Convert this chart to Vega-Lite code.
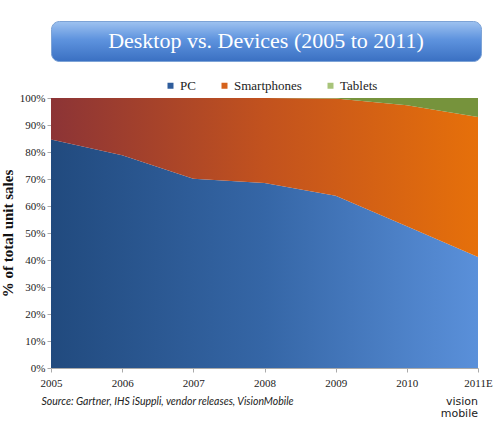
{
  "$schema": "https://vega.github.io/schema/vega-lite/v6.json",
  "background": "white",
  "padding": {"left": 0, "top": 20, "right": 5, "bottom": 5},
  "config": {
    "view": {"stroke": null},
    "font": "Liberation Serif",
    "axis": {"labelFont": "Liberation Serif"},
    "legend": {"labelFont": "Liberation Serif"}
  },
  "spacing": 30,
  "vconcat": [
    {
      "width": 430,
      "height": 40,
      "view": {
        "fill": {
          "gradient": "linear", "x1": 0, "y1": 0, "x2": 0, "y2": 1,
          "stops": [
            {"offset": 0, "color": "#9ec2f0"},
            {"offset": 0.45, "color": "#5e93de"},
            {"offset": 1, "color": "#3a70c2"}
          ]
        },
        "cornerRadius": 8,
        "stroke": "#7da3d6"
      },
      "data": {"values": [{"label": "Desktop vs. Devices (2005 to 2011)"}]},
      "mark": {"type": "text", "fontSize": 22, "color": "white", "font": "Liberation Serif"},
      "encoding": {"text": {"field": "label"}}
    },
    {
      "width": 427,
      "height": 270,
      "title": {
        "text": ["vision", "mobile"],
        "orient": "bottom",
        "anchor": "end",
        "frame": "group",
        "font": "DejaVu Sans",
        "fontSize": 11,
        "fontWeight": "normal",
        "color": "#222",
        "lineHeight": 12,
        "offset": -11
      },
      "data": {
        "values": [
          {"year": "2005", "series": "PC", "value": 84.6},
          {"year": "2006", "series": "PC", "value": 78.8},
          {"year": "2007", "series": "PC", "value": 70.1},
          {"year": "2008", "series": "PC", "value": 68.5},
          {"year": "2009", "series": "PC", "value": 63.8},
          {"year": "2010", "series": "PC", "value": 52.5},
          {"year": "2011E", "series": "PC", "value": 41.1},
          {"year": "2005", "series": "Smartphones", "value": 15.4},
          {"year": "2006", "series": "Smartphones", "value": 21.2},
          {"year": "2007", "series": "Smartphones", "value": 29.9},
          {"year": "2008", "series": "Smartphones", "value": 31.5},
          {"year": "2009", "series": "Smartphones", "value": 36.0},
          {"year": "2010", "series": "Smartphones", "value": 44.8},
          {"year": "2011E", "series": "Smartphones", "value": 51.9},
          {"year": "2005", "series": "Tablets", "value": 0},
          {"year": "2006", "series": "Tablets", "value": 0},
          {"year": "2007", "series": "Tablets", "value": 0},
          {"year": "2008", "series": "Tablets", "value": 0},
          {"year": "2009", "series": "Tablets", "value": 0.2},
          {"year": "2010", "series": "Tablets", "value": 2.7},
          {"year": "2011E", "series": "Tablets", "value": 7.0}
        ]
      },
      "transform": [
        {
          "stack": "value",
          "groupby": ["year"],
          "sort": [{"field": "series", "order": "ascending"}],
          "as": ["v0", "v1"]
        }
      ],
      "encoding": {
        "x": {
          "field": "year",
          "type": "ordinal",
          "scale": {"padding": 0},
          "axis": {
            "labelAngle": 0,
            "labelFont": "Liberation Serif",
            "labelFontSize": 11,
            "labelColor": "#222",
            "labelPadding": 5,
            "domainColor": "#aaa",
            "tickColor": "#aaa",
            "tickSize": 4,
            "title": "Source: Gartner, IHS iSuppli, vendor releases, VisionMobile",
            "titleFont": "Lato",
            "titleFontStyle": "italic",
            "titleFontWeight": "normal",
            "titleFontSize": 10.5,
            "titleColor": "#222",
            "titleAnchor": "start",
            "titleAlign": "left",
            "titleX": -10,
            "titlePadding": 8
          }
        },
        "y": {
          "field": "v1",
          "type": "quantitative",
          "scale": {"domain": [0, 100]},
          "axis": {
            "values": [0, 10, 20, 30, 40, 50, 60, 70, 80, 90, 100],
            "labelExpr": "datum.value + '%'",
            "labelOverlap": false,
            "grid": false,
            "labelFont": "Liberation Serif",
            "labelFontSize": 11,
            "labelColor": "#222",
            "domainColor": "#aaa",
            "tickColor": "#aaa",
            "tickSize": 4,
            "labelPadding": 2,
            "title": "% of total unit sales",
            "titleFont": "Liberation Serif",
            "titleFontSize": 15,
            "titleFontWeight": "bold",
            "titleColor": "#111",
            "titlePadding": 4
          }
        },
        "y2": {"field": "v0"}
      },
      "layer": [
        {
          "transform": [{"filter": "datum.series === 'PC'"}],
          "mark": {
            "type": "area",
            "fill": {
              "gradient": "linear",
              "stops": [
                {"offset": 0, "color": "#214a7e"},
                {"offset": 0.5, "color": "#3566a6"},
                {"offset": 1, "color": "#5a90da"}
              ]
            }
          }
        },
        {
          "transform": [{"filter": "datum.series === 'Smartphones'"}],
          "mark": {
            "type": "area",
            "fill": {
              "gradient": "linear",
              "stops": [
                {"offset": 0, "color": "#8c3436"},
                {"offset": 0.5, "color": "#c2521e"},
                {"offset": 1, "color": "#e6700a"}
              ]
            }
          }
        },
        {
          "transform": [{"filter": "datum.series === 'Tablets'"}],
          "mark": {"type": "area", "fill": "#76933c"}
        },
        {
          "transform": [{"filter": "false"}],
          "mark": {"type": "area"},
          "encoding": {
            "color": {
              "field": "series",
              "type": "nominal",
              "scale": {
                "domain": ["PC", "Smartphones", "Tablets"],
                "range": ["#2f5d9c", "#d5621c", "#a8c47a"]
              },
              "legend": {
                "title": null,
                "orient": "none",
                "direction": "horizontal",
                "legendX": 113,
                "legendY": 58,
                "symbolType": "square",
                "symbolSize": 36,
                "symbolOpacity": 1,
                "labelFont": "Liberation Serif",
                "labelFontSize": 13,
                "labelColor": "#222",
                "labelOffset": 3,
                "columnPadding": 22
              }
            }
          }
        }
      ]
    }
  ]
}
